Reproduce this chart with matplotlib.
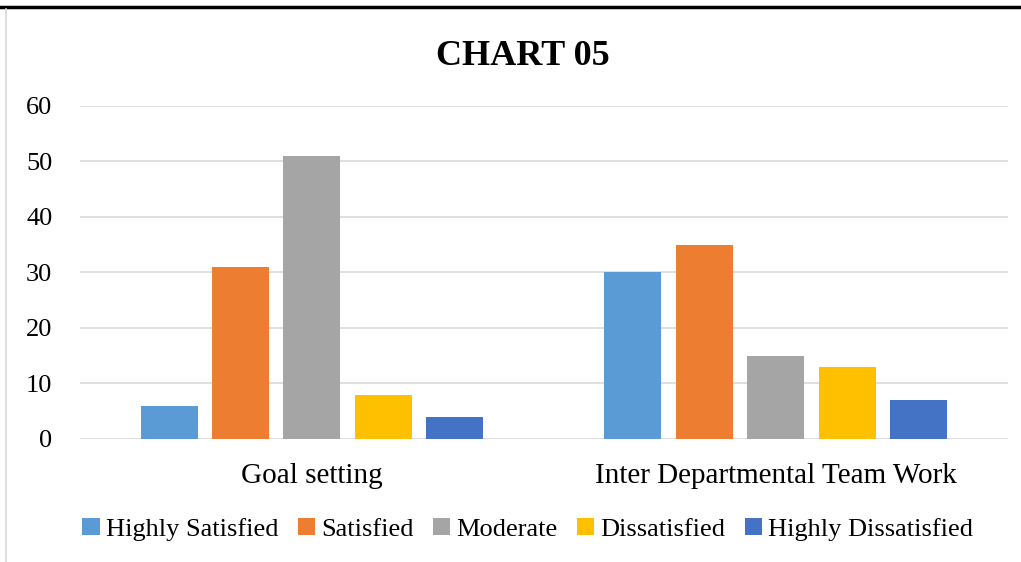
import matplotlib.pyplot as plt
import numpy as np
from matplotlib.lines import Line2D

# Veriler
categories = ['Goal setting', 'Inter Departmental Team Work']
series_names = ['Highly Satisfied', 'Satisfied', 'Moderate', 'Dissatisfied', 'Highly Dissatisfied']
highly_satisfied = [6, 30]
satisfied = [31, 35]
moderate = [51, 15]
dissatisfied = [8, 13]
highly_dissatisfied = [4, 7]
colors = ['#5B9BD5', '#ED7D31', '#A5A5A5', '#FFC000', '#4472C4']

plt.rcParams['font.family'] = ['Liberation Serif', 'DejaVu Serif']

fig = plt.figure(figsize=(10.21, 5.62), dpi=100)
ax = fig.add_axes([0.0784, 0.2189, 0.9086, 0.5925])

x = np.arange(len(categories))
width = 0.123
step = 0.154
all_series = [highly_satisfied, satisfied, moderate, dissatisfied, highly_dissatisfied]
for k, (name, vals) in enumerate(zip(series_names, all_series)):
    ax.bar(x + (k - 2) * step, vals, width, color=colors[k], label=name, zorder=3)

ax.set_xlim(-0.5, 1.5)
ax.set_ylim(0, 60)
ax.set_yticks(range(0, 61, 10))
ax.set_xticks(x)
ax.set_xticklabels(categories, fontsize=21)
ax.grid(axis='y', color='#d9d9d9', linewidth=1.2, zorder=0)
for s in ax.spines.values():
    s.set_visible(False)
ax.tick_params(axis='both', length=0)
ax.tick_params(axis='y', labelsize=19, pad=20)
ax.tick_params(axis='x', pad=17)

fig.text(0.512, 0.900, 'CHART 05', ha='center', va='center', fontsize=26, fontweight='bold')

fig.legend(loc='center', bbox_to_anchor=(0.517, 0.058), ncol=5, frameon=False, fontsize=19,
           handlelength=0.65, handleheight=0.65, handletextpad=0.25, columnspacing=0.72)

# Sayfa kenarları
fig.add_artist(Line2D([0, 1], [1 - 6.5 / 562, 1 - 6.5 / 562], color='black', linewidth=2.5))
fig.add_artist(Line2D([5.5 / 1021, 5.5 / 1021], [0, 1 - 9 / 562], color='#d9d9d9', linewidth=1.2))

fig.savefig('out.png', dpi=100)
